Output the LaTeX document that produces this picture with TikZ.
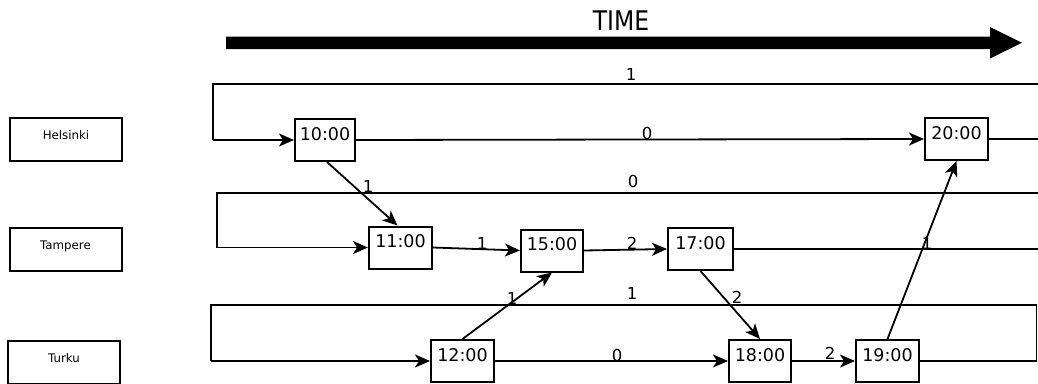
\documentclass[tikz,border=0pt]{standalone}
\usepackage{fontspec}
\setmainfont{DejaVu Sans}
\usetikzlibrary{arrows.meta}
\tikzset{
  tbox/.style={draw, line width=2pt, inner sep=0pt, minimum width=63pt,
    text height=21pt, text depth=21pt, font=\fontsize{17.5}{20}\selectfont},
  city/.style={draw, line width=2pt, inner sep=0pt, minimum width=112pt,
    text height=21.5pt, text depth=21.5pt, font=\fontsize{11.8}{14}\selectfont},
  conn/.style={line width=1.8pt, -{Stealth[length=15pt,width=13pt,inset=4pt]}},
  loopline/.style={line width=1.8pt},
  lab/.style={inner sep=0pt, font=\fontsize{16.5}{19}\selectfont},
}
\begin{document}
\begin{tikzpicture}[x=1pt,y=-1pt]
\useasboundingbox (0,0) rectangle (1038,383);
\clip (0,0) rectangle (1038,383);
% time arrow
\fill (226,36.5) -- (990,36.5) -- (990,27) -- (1022,42.75) -- (990,58.5) -- (990,49) -- (226,49) -- cycle;
\node[inner sep=0pt, font=\fontsize{27}{30}\selectfont, xscale=0.87] (time) at (621,21) {TIME};
% cities
\node[city] (hel) at (66,139.5) {Helsinki};
\node[city] (tam) at (65.5,249.5) {Tampere};
\node[city] (tur) at (64,362.5) {Turku};
% time nodes
\node[tbox, minimum width=60pt] (H10) at (325,140) {10:00};
\node[tbox] (H20) at (956.5,139) {20:00};
\node[tbox] (T11) at (400.5,247.5) {11:00};
\node[tbox, minimum width=62pt] (T15) at (552,250.5) {15:00};
\node[tbox, minimum width=65pt] (T17) at (700.5,249) {17:00};
\node[tbox] (U12) at (462.5,361) {12:00};
\node[tbox, minimum width=62pt] (U18) at (760,361) {18:00};
\node[tbox] (U19) at (887.5,361) {19:00};
% loops
\draw[loopline] (H20.east) -- (1045,139) -- (1045,84) -- (213,84) -- (213,140);
\draw[conn] (213,140) -- (H10.west);
\draw[loopline] (T17.east) -- (1045,249) -- (1045,193) -- (217,193) -- (217,247.5);
\draw[conn] (217,247.5) -- (T11.west);
\draw[loopline] (U19.east) -- (1036.5,361) -- (1036.5,305) -- (211,305) -- (211,361);
\draw[conn] (211,361) -- (U12.west);
% edges
\draw[conn] (H10.east) -- (H20.west);
\draw[conn] ([xshift=2pt]H10.south) -- ([xshift=-3pt]T11.north);
\draw[conn] (T11.east) -- (T15.west);
\draw[conn] (T15.east) -- (T17.west);
\draw[conn] (U12.north) -- (T15.south);
\draw[conn] (T17.south) -- (U18.north);
\draw[conn] (U12.east) -- (U18.west);
\draw[conn] (U18.east) -- (U19.west);
\draw[conn] (U19.north) -- (H20.south);
% labels
\node[lab] (l1) at (631,74) {1};
\node[lab] (l2) at (647,133) {0};
\node[lab] (l3) at (633,181.5) {0};
\node[lab] (l4) at (368,186) {1};
\node[lab] (l5) at (482,243) {1};
\node[lab] (l6) at (632,243.5) {2};
\node[lab] (l7) at (632,293) {1};
\node[lab] (l8) at (512,298) {1};
\node[lab] (l9) at (617,355.5) {0};
\node[lab] (l10) at (737,297.5) {2};
\node[lab] (l11) at (830,353.5) {2};
\node[lab] (l12) at (927,243) {1};
\end{tikzpicture}
\end{document}
